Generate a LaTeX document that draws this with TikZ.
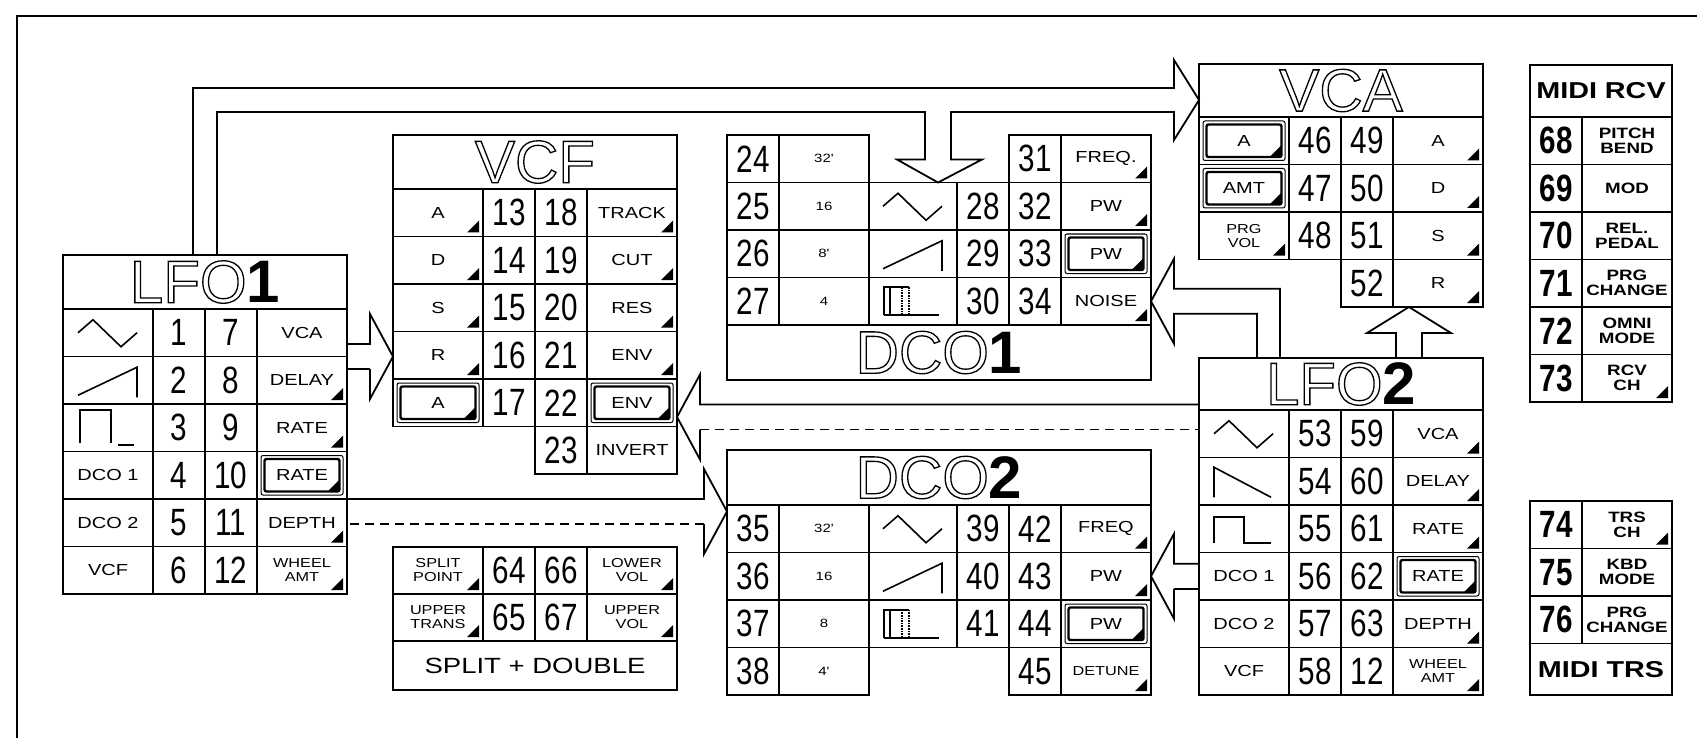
\documentclass[tikz,border=0pt]{standalone}
\usepackage{fontspec}
\setmainfont{Liberation Sans}
\newfontfamily\numfont{Liberation Sans}[FakeStretch=0.78]
\newfontfamily\labfont{Liberation Sans}[FakeStretch=1.25]
\usetikzlibrary{calc}
\tikzstyle{cell} = [draw, line width=1.8pt, anchor=north west, inner sep=0pt, outer sep=0pt, minimum height=47.5pt]
\tikzstyle{lab} = [cell, minimum width=90pt, align=center, font=\labfont\fontsize{16}{16}\selectfont]
\tikzstyle{labs} = [cell, minimum width=90pt, align=center, font=\labfont\fontsize{13}{14}\selectfont]
\tikzstyle{foot} = [cell, minimum width=90pt, font=\labfont\fontsize{12}{12}\selectfont]
\tikzstyle{num} = [cell, minimum width=52pt, font=\numfont\fontsize{38}{38}\selectfont]
\tikzstyle{wave} = [cell, minimum width=90pt]
\tikzstyle{title} = [cell, minimum width=284pt, minimum height=54pt, font=\fontsize{60}{60}\selectfont]
\tikzstyle{midnum} = [num, font=\numfont\bfseries\fontsize{38}{38}\selectfont]
\tikzstyle{midlab} = [cell, minimum width=90pt, align=center, font=\labfont\bfseries\fontsize{15}{15}\selectfont]
\tikzstyle{midtitle} = [cell, minimum width=142pt, minimum height=52pt, font=\labfont\bfseries\fontsize{23}{23}\selectfont]
\tikzstyle{line} = [draw, line width=1.8pt]
\tikzstyle{broken} = [dash pattern=on 9pt off 6pt]
\tikzstyle{sym} = [draw, line width=1.6pt]

\newcommand{\hollow}[2]{\special{pdf:literal direct 1 Tr 1.3 w}#1\special{pdf:literal direct 0 Tr}\textbf{#2}}
\newcommand{\valtick}[1]{\fill ([shift={(-4,-4)}]#1.south east) -- ++(0,-12) -- ++(-12,12) -- cycle;}
\newcommand{\selbox}[1]{\draw[line width=1pt, rounded corners=2pt] ([shift={(4,4)}]#1.north west) rectangle ([shift={(-4,-4)}]#1.south east);
	\draw[line width=2.4pt, rounded corners=2pt] ([shift={(7.5,7.5)}]#1.north west) rectangle ([shift={(-7.5,-7.5)}]#1.south east);
	\fill ([shift={(-8,-8)}]#1.south east) -- ++(0,-11) -- ++(-11,11) -- cycle;}
\newcommand{\sinesym}[1]{\draw[sym] ($(#1.center)+(-30,0)$) -- ++(15,-13) -- ++(28,27) -- ++(16,-14);}
\newcommand{\sawup}[1]{\draw[sym] ($(#1.center)+(-30,15)$) -- ++(59,-28) -- ++(0,30);}
\newcommand{\sawdn}[1]{\draw[sym] ($(#1.center)+(-30,16)$) -- ++(0,-30) -- ++(57,30);}
\newcommand{\pulsea}[1]{\draw[sym] ($(#1.center)+(-28,15)$) -- ++(0,-33) -- ++(31,0) -- ++(0,33) ($(#1.center)+(10,17)$) -- ++(16,0);}
\newcommand{\pulseb}[1]{\draw[sym] ($(#1.center)+(-30,14)$) -- ++(0,-26) -- ++(30,0) -- ++(0,26) -- ++(27,0);}
\newcommand{\pwmsym}[1]{\draw[sym] ($(#1.center)+(-29,14)$) -- ++(0,-28) -- ++(25,0) ($(#1.center)+(-23,14)$) -- ++(0,-28) ($(#1.center)+(-29,14)$) -- ++(55,0);
	\draw[sym, densely dotted] ($(#1.center)+(-11,-14)$) -- ++(0,28) ($(#1.center)+(-4,-14)$) -- ++(0,28);}
\newcommand{\rarrow}[3][]{\path[line] ($(#2)+(0,-12.5)$) -- ($(#3)+(-23,-12.5)$) -- ($(#3)+(-23,-42.5)$) -- (#3) -- ($(#3)+(-23,42.5)$) -- ($(#3)+(-23,12.5)$);
	\path[line, #1] ($(#3)+(-23,12.5)$) -- ($(#2)+(0,12.5)$);}
\newcommand{\larrow}[3][]{\path[line] ($(#2)+(0,-12.5)$) -- ($(#3)+(23,-12.5)$) -- ($(#3)+(23,-42.5)$) -- (#3) -- ($(#3)+(23,42.5)$) -- ($(#3)+(23,12.5)$);
	\path[line, #1] ($(#3)+(23,12.5)$) -- ($(#2)+(0,12.5)$);}

\begin{document}
\begin{tikzpicture}[x=1pt, y=-1pt]
			\useasboundingbox (0,0) rectangle (1697,738);
			\coordinate (fa) at (1697,16);
			\coordinate (fb) at (17,16);
			\coordinate (fc) at (17,738);
			\path [line] (fa) -- (fb) -- (fc);

			\node [title] (l1) at (63,255) {\hollow{LFO}{1}};
			\node [wave] (l1w0) at (63,309) {};
			\node [wave] (l1w1) at (63,356.5) {};
			\node [wave] (l1w2) at (63,404) {};
			\node [lab] (l1w3) at (63,451.5) {DCO 1};
			\node [lab] (l1w4) at (63,499) {DCO 2};
			\node [lab] (l1w5) at (63,546.5) {VCF};
			\foreach \t [count=\i from 0] in {1,...,6}
				\node [num] (l1a\i) at (153,309+47.5*\i) {\t};
			\foreach \t [count=\i from 0] in {7,...,12}
				\node [num] (l1b\i) at (205,309+47.5*\i) {\t};
			\foreach \t [count=\i from 0] in {VCA,DELAY,RATE,RATE,DEPTH}
				\node [lab] (l1p\i) at (257,309+47.5*\i) {\t};
			\node [labs] (l1p5) at (257,546.5) {WHEEL\\AMT};

			\node [title] (vcf) at (393,135) {\hollow{VCF}{}};
			\foreach \t [count=\i from 0] in {A,D,S,R,A}
				\node [lab] (vfa\i) at (393,189+47.5*\i) {\t};
			\foreach \t [count=\i from 0] in {13,...,17}
				\node [num] (vfb\i) at (483,189+47.5*\i) {\t};
			\foreach \t [count=\i from 0] in {18,...,23}
				\node [num] (vfc\i) at (535,189+47.5*\i) {\t};
			\foreach \t [count=\i from 0] in {TRACK,CUT,RES,ENV,ENV,INVERT}
				\node [lab] (vfp\i) at (587,189+47.5*\i) {\t};

			\foreach \t [count=\i from 0] in {24,...,27}
				\node [num] (d1a\i) at (727,135+47.5*\i) {\t};
			\foreach \t [count=\i from 0] in {32',16,8',4}
				\node [foot] (d1b\i) at (779,135+47.5*\i) {\t};
			\node [wave, minimum width=88pt] (d1w0) at (869,182.5) {};
			\node [wave, minimum width=88pt] (d1w1) at (869,230) {};
			\node [wave, minimum width=88pt] (d1w2) at (869,277.5) {};
			\foreach \t [count=\i from 0] in {28,29,30}
				\node [num] (d1c\i) at (957,182.5+47.5*\i) {\t};
			\foreach \t [count=\i from 0] in {31,...,34}
				\node [num] (d1d\i) at (1009,135+47.5*\i) {\t};
			\foreach \t [count=\i from 0] in {FREQ.,PW,PW,NOISE}
				\node [lab] (d1p\i) at (1061,135+47.5*\i) {\t};
			\node [title, minimum width=424pt, minimum height=55pt] (d1) at (727,325) {\hollow{DCO}{1}};

			\node [title, minimum height=53pt] (vca) at (1199,64) {\hollow{VCA}{}};
			\node [lab] (vca0) at (1199,117) {A};
			\node [lab] (vca1) at (1199,164.5) {AMT};
			\node [labs] (vca2) at (1199,212) {PRG\\VOL};
			\foreach \t [count=\i from 0] in {46,47,48}
				\node [num] (vcb\i) at (1289,117+47.5*\i) {\t};
			\foreach \t [count=\i from 0] in {49,...,52}
				\node [num] (vcc\i) at (1341,117+47.5*\i) {\t};
			\foreach \t [count=\i from 0] in {A,D,S,R}
				\node [lab] (vcp\i) at (1393,117+47.5*\i) {\t};

			\node [title, minimum height=52pt] (l2) at (1199,358) {\hollow{LFO}{2}};
			\node [wave] (l2w0) at (1199,410) {};
			\node [wave] (l2w1) at (1199,457.5) {};
			\node [wave] (l2w2) at (1199,505) {};
			\node [lab] (l2w3) at (1199,552.5) {DCO 1};
			\node [lab] (l2w4) at (1199,600) {DCO 2};
			\node [lab] (l2w5) at (1199,647.5) {VCF};
			\foreach \t [count=\i from 0] in {53,...,58}
				\node [num] (l2a\i) at (1289,410+47.5*\i) {\t};
			\foreach \t [count=\i from 0] in {59,60,61,62,63,12}
				\node [num] (l2b\i) at (1341,410+47.5*\i) {\t};
			\foreach \t [count=\i from 0] in {VCA,DELAY,RATE,RATE,DEPTH}
				\node [lab] (l2p\i) at (1393,410+47.5*\i) {\t};
			\node [labs] (l2p5) at (1393,647.5) {WHEEL\\AMT};

			\node [title, minimum width=424pt, minimum height=55pt] (d2) at (727,450) {\hollow{DCO}{2}};
			\foreach \t [count=\i from 0] in {35,...,38}
				\node [num] (d2a\i) at (727,505+47.5*\i) {\t};
			\foreach \t [count=\i from 0] in {32',16,8,4'}
				\node [foot] (d2b\i) at (779,505+47.5*\i) {\t};
			\node [wave, minimum width=88pt] (d2w0) at (869,505) {};
			\node [wave, minimum width=88pt] (d2w1) at (869,552.5) {};
			\node [wave, minimum width=88pt] (d2w2) at (869,600) {};
			\foreach \t [count=\i from 0] in {39,40,41}
				\node [num] (d2c\i) at (957,505+47.5*\i) {\t};
			\foreach \t [count=\i from 0] in {42,...,45}
				\node [num] (d2d\i) at (1009,505+47.5*\i) {\t};
			\foreach \t [count=\i from 0] in {FREQ,PW,PW}
				\node [lab] (d2p\i) at (1061,505+47.5*\i) {\t};
			\node [lab, font=\labfont\fontsize{13}{13}\selectfont] (d2p3) at (1061,647.5) {DETUNE};

			\node [labs, minimum height=47pt] (sp0) at (393,547) {SPLIT\\POINT};
			\node [num, minimum height=47pt] (sp1) at (483,547) {64};
			\node [num, minimum height=47pt] (sp2) at (535,547) {66};
			\node [labs, minimum height=47pt] (sp3) at (587,547) {LOWER\\VOL};
			\node [labs, minimum height=47pt] (sp4) at (393,594) {UPPER\\TRANS};
			\node [num, minimum height=47pt] (sp5) at (483,594) {65};
			\node [num, minimum height=47pt] (sp6) at (535,594) {67};
			\node [labs, minimum height=47pt] (sp7) at (587,594) {UPPER\\VOL};
			\node [cell, minimum width=284pt, minimum height=49pt, font=\labfont\fontsize{22}{22}\selectfont] (spd) at (393,641) {SPLIT + DOUBLE};

			\node [midtitle] (rcv) at (1530,65) {MIDI RCV};
			\foreach \t [count=\i from 0] in {68,...,73}
				\node [midnum] (rcn\i) at (1530,117+47.5*\i) {\t};
			\node [midlab] (rcl0) at (1582,117) {PITCH\\BEND};
			\node [midlab] (rcl1) at (1582,164.5) {MOD};
			\node [midlab] (rcl2) at (1582,212) {REL.\\PEDAL};
			\node [midlab] (rcl3) at (1582,259.5) {PRG\\CHANGE};
			\node [midlab] (rcl4) at (1582,307) {OMNI\\MODE};
			\node [midlab] (rcl5) at (1582,354.5) {RCV\\CH};

			\foreach \t [count=\i from 0] in {74,75,76}
				\node [midnum] (trn\i) at (1530,501+47.5*\i) {\t};
			\node [midlab] (trl0) at (1582,501) {TRS\\CH};
			\node [midlab] (trl1) at (1582,548.5) {KBD\\MODE};
			\node [midlab] (trl2) at (1582,596) {PRG\\CHANGE};
			\node [midtitle, minimum height=51.5pt] (trs) at (1530,643.5) {MIDI TRS};

			\sinesym{l1w0} \sawup{l1w1} \pulsea{l1w2}
			\sinesym{d1w0} \sawup{d1w1} \pwmsym{d1w2}
			\sinesym{l2w0} \sawdn{l2w1} \pulseb{l2w2}
			\sinesym{d2w0} \sawup{d2w1} \pwmsym{d2w2}
			\foreach \c in {l1p1,l1p2,l1p4,l1p5,vfa0,vfa1,vfa2,vfa3,vfp0,vfp1,vfp2,vfp3,d1p0,d1p1,d1p3,vca2,vcp0,vcp1,vcp2,vcp3,l2p0,l2p1,l2p2,l2p4,l2p5,d2p0,d2p1,d2p3,sp0,sp3,sp4,sp7,rcl5,trl0}
				{\valtick{\c}}
			\foreach \c in {l1p3,vfa4,vfp4,d1p2,vca0,vca1,l2p3,d2p2}
				{\selbox{\c}}

			\coordinate (l1vcf) at (l1p0.south east);
			\coordinate (vcfin) at (vfa3.west |- l1vcf);
			\coordinate (l1dco) at ($(l1p4.north east)+(0,12.5)$);
			\coordinate (dco2in) at (d2a0.west |- l1dco);
			\coordinate (l2vcf) at ($(l2.south west)+(0,7)$);
			\coordinate (vcfenv) at (vfp4.east |- l2vcf);
			\coordinate (l2dco) at (l2w3.west);
			\coordinate (dco2pw) at (d2p1.east |- l2dco);
			\coordinate (vcain) at ($(vca.south west)+(0,-17)$);
			\coordinate (dco1in) at ($(d1w0.north east)+(-19,0)$);
			\coordinate (l2vca) at ($(vcp3.south west)+(16,0)$);

			\rarrow{l1vcf}{vcfin}
			\rarrow[broken]{l1dco}{dco2in}
			\larrow[broken]{l2vcf}{vcfenv}
			\larrow{l2dco}{dco2pw}
			\path [line] ($(l1.north west)+(130,0)$) |- ($(vcain)+(-25,-12)$) -- ++(0,-28) -- (vcain) -- ++(-25,40) -- ++(0,-28) -| ($(dco1in)+(13,-23)$) -- ++(31,0) -- (dco1in) -- ++(-41,-23) -- ++(28,0) |- ($(l1.north west)+(154,-143)$) -- ($(l1.north west)+(154,0)$);
			\path [line] ($(l2.north west)+(81,0)$) |- ($(d1p3.east)+(23,-12.5)$) -- ++(0,-30) -- (d1p3.east) -- ($(d1p3.east)+(23,42.5)$) -- ++(0,-30) -| ($(l2.north west)+(58,0)$);
			\path [line] ($(l2vca)+(-13,51)$) -- ++(0,-25) -- ++(-29,0) -- (l2vca) -- ++(42,26) -- ++(-29,0) -- ++(0,25);
		\end{tikzpicture}
\end{document}
